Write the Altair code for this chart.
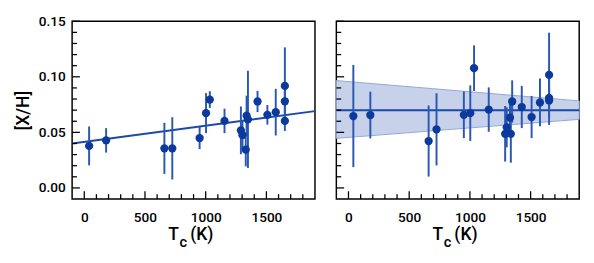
import altair as alt
import pandas as pd

# ---- data ----
tc = [40, 180, 660, 725, 950, 1003, 1034, 1155, 1290, 1303, 1330, 1337, 1348,
      1427, 1508, 1577, 1652, 1652, 1652]

xh_left = [0.0378, 0.0428, 0.0356, 0.0356, 0.0449, 0.0673, 0.0795, 0.0603,
           0.0518, 0.0475, 0.0344, 0.0650, 0.0617, 0.0778, 0.0658, 0.0682,
           0.0918, 0.0780, 0.0603]
err_left = [0.0175, 0.0110, 0.0230, 0.0280, 0.0100, 0.0180, 0.0075, 0.0110,
            0.0215, 0.0130, 0.0150, 0.0180, 0.0437, 0.0095, 0.0088, 0.0210,
            0.0347, 0.0100, 0.0090]

xh_right = [0.0647, 0.0656, 0.0422, 0.0527, 0.0658, 0.0673, 0.1078, 0.0705,
            0.0487, 0.0545, 0.0632, 0.0487, 0.0778, 0.0728, 0.0638, 0.0769,
            0.1017, 0.0810, 0.0787]
err_right = [0.0460, 0.0210, 0.0320, 0.0325, 0.0210, 0.0250, 0.0205, 0.0200,
             0.0250, 0.0180, 0.0150, 0.0260, 0.0190, 0.0190, 0.0190, 0.0215,
             0.0380, 0.0120, 0.0220]

fit_x = [-100, 1900]
fit_left = [0.0400, 0.0691]
fit_right = [0.0699, 0.0699]
band_lo = [0.0446, 0.0617]
band_hi = [0.0966, 0.0783]

x_major = [0, 500, 1000, 1500]
x_minor = [100, 200, 300, 400, 600, 700, 800, 900, 1100, 1200, 1300, 1400,
           1600, 1700, 1800]
y_major = [0.00, 0.05, 0.10, 0.15]
y_minor = [0.01, 0.02, 0.03, 0.04, 0.06, 0.07, 0.08, 0.09, 0.11, 0.12, 0.13,
           0.14]

# ---- styling ----
W, H = 250, 183
FONT = "Roboto"
FW = 500
PT_COLOR = "#0b3a9c"
ERR_COLOR = "#2a57b2"
LINE_COLOR = "#1a49ab"

xs = alt.Scale(domain=[-100, 1900], nice=False, zero=False)
ys = alt.Scale(domain=[-0.01, 0.15], nice=False, zero=False)


def panel(yvals, errs, fit_y, show_y, band=False):
    pts = pd.DataFrame({
        "tc": tc, "xh": yvals,
        "lo": [v - e for v, e in zip(yvals, errs)],
        "hi": [v + e for v, e in zip(yvals, errs)],
    })
    fit = pd.DataFrame({"tc": fit_x, "xh": fit_y})

    if show_y:
        y_axis = alt.Axis(values=y_major, format=".2f", ticks=False,
                          domain=False, grid=False, labelPadding=7,
                          labelFont=FONT, labelFontSize=14, labelFontWeight=FW,
                          labelColor="black",
                          title="[X/H]", titleFont=FONT, titleFontSize=18,
                          titleFontWeight=FW, titleColor="black",
                          titlePadding=6)
    else:
        y_axis = alt.Axis(values=y_major, labels=False, ticks=False,
                          domain=False, grid=False, title=None)
    x_axis = alt.Axis(values=x_major, format="d", ticks=False, domain=False,
                      grid=False, labelPadding=12, labelFont=FONT,
                      labelFontSize=14, labelFontWeight=FW,
                      labelColor="black", title=None)

    def X(f):
        return alt.X(f, scale=xs, axis=x_axis)

    def Y(f):
        return alt.Y(f, scale=ys, axis=y_axis)

    layers = []
    if band:
        bdf = pd.DataFrame({"tc": fit_x, "lo": band_lo, "hi": band_hi})
        layers.append(alt.Chart(bdf).mark_area(
            color="#c7d2ea", opacity=1, stroke="#8fa7d8", strokeWidth=1
        ).encode(x=X("tc:Q"), y=Y("lo:Q"), y2="hi:Q"))

    layers.append(alt.Chart(fit).mark_line(color=LINE_COLOR, strokeWidth=2)
                  .encode(x=X("tc:Q"), y=Y("xh:Q")))
    layers.append(alt.Chart(pts).mark_rule(color=ERR_COLOR, strokeWidth=2)
                  .encode(x=X("tc:Q"), y=Y("lo:Q"), y2="hi:Q"))
    layers.append(alt.Chart(pts).mark_circle(color=PT_COLOR, opacity=1, size=72)
                  .encode(x=X("tc:Q"), y=Y("xh:Q")))

    # inward ticks
    for vals, ln in ((x_major, 8), (x_minor, 5)):
        layers.append(alt.Chart(pd.DataFrame({"t": vals})).mark_rule(
            color="black", strokeWidth=1.3).encode(
            x=X("t:Q"), y=alt.value(H), y2=alt.value(H - ln)))
    for vals, ln in ((y_major, 8), (y_minor, 5)):
        layers.append(alt.Chart(pd.DataFrame({"t": vals})).mark_rule(
            color="black", strokeWidth=1.3).encode(
            y=Y("t:Q"), x=alt.value(0), x2=alt.value(ln)))

    # x title: T with subscript c, then (K)
    one = pd.DataFrame({"a": [0]})
    layers.append(alt.Chart(one).mark_text(
        text="T", font=FONT, fontSize=18, fontWeight=FW, align="left",
        baseline="alphabetic", color="black"
    ).encode(x=alt.value(99), y=alt.value(225)))
    layers.append(alt.Chart(one).mark_text(
        text="c", font=FONT, fontSize=15, fontWeight=FW, align="left",
        baseline="alphabetic", color="black"
    ).encode(x=alt.value(110.5), y=alt.value(232)))
    layers.append(alt.Chart(one).mark_text(
        text="(K)", font=FONT, fontSize=18, fontWeight=FW, align="left",
        baseline="alphabetic", color="black"
    ).encode(x=alt.value(121.5), y=alt.value(225)))

    return alt.layer(*layers).properties(width=W, height=H)


left = panel(xh_left, err_left, fit_left, True)
right = panel(xh_right, err_right, fit_right, False, band=True)

chart = alt.hconcat(left, right, spacing=12).properties(
    padding={"left": 6, "top": 2, "right": 2, "bottom": 2},
    background="white",
).configure_view(stroke="black", strokeWidth=1.5)

chart.save("out.html", embed_options={"renderer": "svg", "actions": False})
